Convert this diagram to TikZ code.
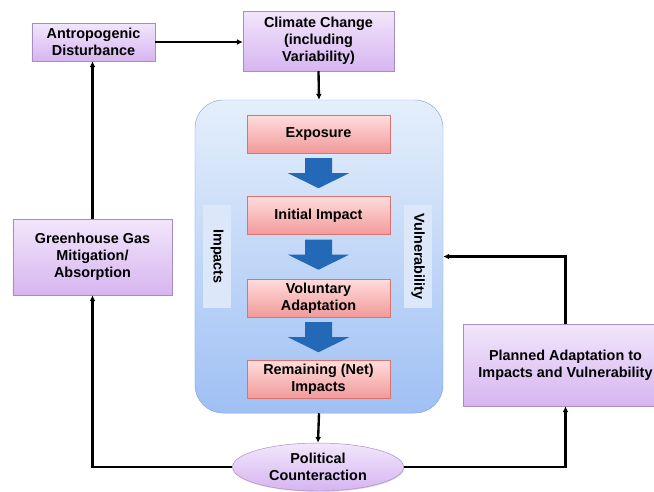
\documentclass[tikz,border=0pt]{standalone}
\usepackage{fontspec}
\setmainfont{Liberation Sans}
\usepackage{tikz}
\usetikzlibrary{arrows.meta,positioning,shapes,shadows,calc}
\definecolor{plTop}{HTML}{F2E6FB}
\definecolor{plBot}{HTML}{D6B5F0}
\definecolor{plEdge}{HTML}{A88CC6}
\definecolor{rdTop}{HTML}{FFDCDC}
\definecolor{rdBot}{HTML}{F29A9A}
\definecolor{rdEdge}{HTML}{D8736F}
\definecolor{bgTop}{HTML}{E5EFFB}
\definecolor{bgBot}{HTML}{9FC0F4}
\definecolor{bgEdge}{HTML}{83A8DA}
\definecolor{stFill}{HTML}{DCE8FA}
\definecolor{flowBlue}{HTML}{2469B8}

\begin{document}
\begin{tikzpicture}[x=0.03cm,y=-0.03cm,>={Latex[length=5pt,width=5pt]},
  font=\fontsize{12.3}{14.5}\selectfont\bfseries,
  shade/.style={drop shadow={opacity=.3,shadow xshift=.6pt,shadow yshift=-.8pt}},
  pbox/.style={draw=plEdge,top color=plTop,bottom color=plBot,align=center,inner sep=1pt,shade},
  rbox/.style={draw=rdEdge,top color=rdTop,bottom color=rdBot,minimum width=4.29cm,minimum height=1.14cm,align=center,inner sep=1pt,shade},
  strip/.style={fill=stFill,rotate=-90,minimum width=3.09cm,minimum height=0.84cm,inner sep=0pt},
  flow/.style={fill=flowBlue},
  link/.style={->,line width=2pt}]
\useasboundingbox (0,0) rectangle (654,491);
\fill[white] (0,0) rectangle (654,491);
% top row
\node[pbox,minimum width=3.69cm,minimum height=1.14cm] (dist) at (93.5,42) {Antropogenic\\Disturbance};
\node[pbox,minimum width=4.53cm,minimum height=1.8cm] (clim) at (318.5,41) {Climate Change\\(including\\Variability)};
% central block
\node[draw=bgEdge,top color=bgTop,bottom color=bgBot,rounded corners=0.84cm,minimum width=7.44cm,minimum height=9.39cm] (big) at (319,256.5) {};
\node[strip] (impc) at (217,256.5) {Impacts};
\node[strip] (vuln) at (418,256.5) {Vulnerability};
\node[rbox] (expo) at (318.5,134) {Exposure};
\node[rbox] (init) at (318.5,215.5) {Initial Impact};
\node[rbox] (volu) at (318.5,298) {Voluntary\\Adaptation};
\node[rbox] (rema) at (318.5,379.5) {Remaining (Net)\\Impacts};
\foreach \u in {expo,init,volu}
  \fill[flow] ($(\u.south)+(-13.5,5)$) -- ++(27,0) -- ++(0,15) -- ++(17,0) -- ++(-30.5,15) -- ++(-30.5,-15) -- ++(17,0) -- cycle;
% side boxes
\node[pbox,minimum width=4.77cm,minimum height=2.28cm] (ghg) at (92.5,257) {Greenhouse Gas\\Mitigation/\\Absorption};
\node[pbox,minimum width=6.15cm,minimum height=2.46cm] (plan) at (565.5,365) {Planned Adaptation to\\Impacts and Vulnerability};
\node[ellipse,draw=plEdge,top color=plTop,bottom color=plBot,align=center,inner sep=0pt,minimum width=5.13cm,minimum height=1.44cm,shade] (pol) at (318,467) {Political\\Counteraction};
% connectors
\draw[link] (dist.east) -- (dist.east -| clim.west);
\draw[link] (clim.south) -- (big.north);
\draw[link] (big.south) -- (pol.north);
\draw[link] (pol.west) -| (ghg.south);
\draw[link] (ghg.north) -- (ghg.north |- dist.south);
\draw[link] (pol.east) -| (plan.south);
\draw[link] (plan.north) |- (big.east);
\end{tikzpicture}
\end{document}
